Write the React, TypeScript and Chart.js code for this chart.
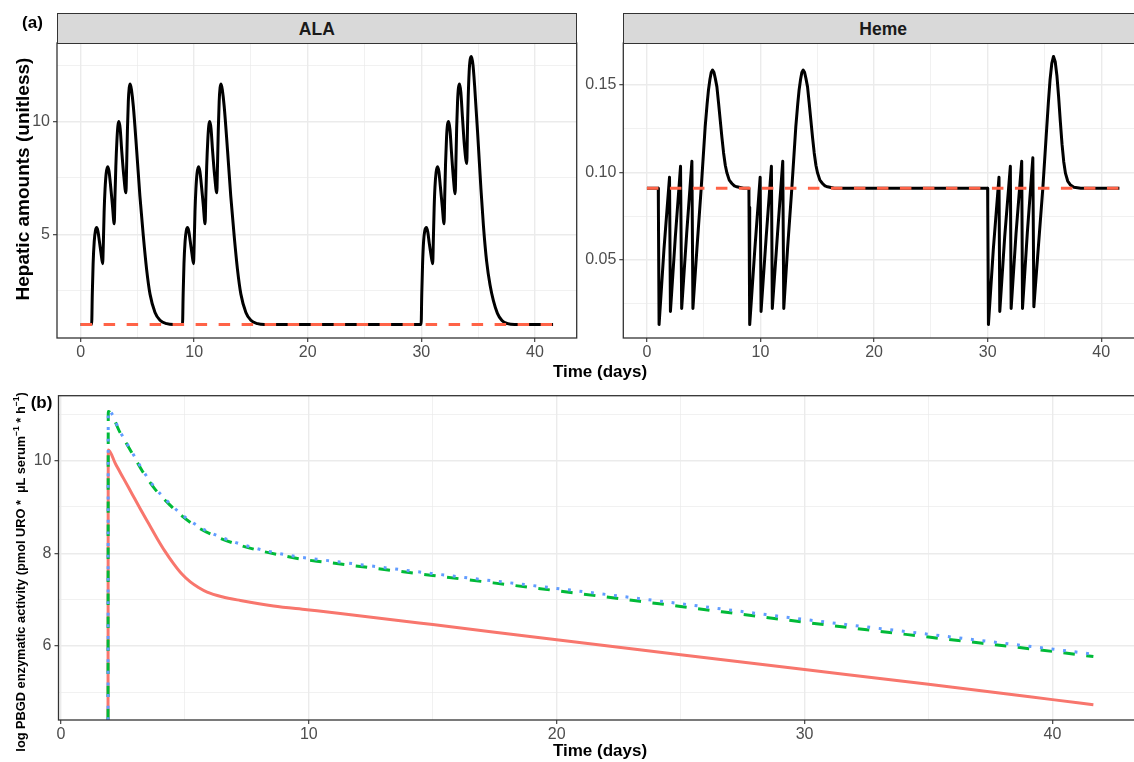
import React, { useEffect, useRef } from 'react';
import { Chart, registerables } from 'chart.js';

Chart.register(...registerables);

// ---------- Panel (a): ALA ----------
const alaDays = [
  0, 0.97, 1.03, 1.1, 1.2, 1.3, 1.41, 1.52, 1.65, 1.8, 1.94, 2.0, 2.07, 2.15, 2.25, 2.38, 2.5, 2.65, 2.8, 2.96,
  3.02, 3.1, 3.2, 3.28, 3.37, 3.48, 3.62, 3.8, 3.99, 4.05, 4.12, 4.2, 4.28, 4.37, 4.48, 4.64, 4.93, 5.22, 5.52, 5.81,
  6.11, 6.55, 6.99, 7.58, 8.16,
  8.97, 9.03, 9.1, 9.2, 9.3, 9.41, 9.52, 9.65, 9.8, 9.94, 10.0, 10.07, 10.15, 10.25, 10.38, 10.5, 10.65, 10.8, 10.96,
  11.02, 11.1, 11.2, 11.28, 11.37, 11.48, 11.62, 11.8, 11.99, 12.05, 12.12, 12.2, 12.28, 12.37, 12.48, 12.64, 12.93,
  13.22, 13.52, 13.81, 14.11, 14.55, 14.99, 15.58, 16.16,
  29.98, 30.04, 30.11, 30.2, 30.3, 30.45, 30.57, 30.7, 30.85, 31.0, 31.06, 31.13, 31.2, 31.3, 31.42, 31.54, 31.68,
  31.85, 32.0, 32.06, 32.13, 32.22, 32.3, 32.4, 32.52, 32.66, 32.82, 32.98, 33.04, 33.11, 33.19, 33.27, 33.37, 33.48,
  33.62, 33.8, 34.0, 34.06, 34.13, 34.21, 34.3, 34.42, 34.55, 34.69, 34.98, 35.25, 35.47, 35.75, 36.05, 36.35, 36.7,
  37.1, 37.6, 38.2, 41.6,
];
const alaValues = [
  1.0, 1.0, 2.4, 3.7, 4.7, 5.15, 5.3, 5.15, 4.7, 4.15, 3.7, 4.6, 6.0, 7.0, 7.7, 8.0, 7.8, 7.1, 6.3, 5.47,
  6.6, 8.0, 9.2, 9.8, 10.0, 9.7, 8.7, 7.6, 6.84, 8.0, 9.6, 10.9, 11.5, 11.67, 11.4, 10.68, 8.76, 6.7, 4.93, 3.45,
  2.35, 1.54, 1.19, 1.04, 1.0,
  1.0, 2.4, 3.7, 4.7, 5.15, 5.3, 5.15, 4.7, 4.15, 3.7, 4.6, 6.0, 7.0, 7.7, 8.0, 7.8, 7.1, 6.3, 5.47,
  6.6, 8.0, 9.2, 9.8, 10.0, 9.7, 8.7, 7.6, 6.84, 8.0, 9.6, 10.9, 11.5, 11.67, 11.4, 10.68, 8.76,
  6.7, 4.93, 3.45, 2.35, 1.54, 1.19, 1.04, 1.0,
  1.0, 2.4, 3.7, 4.7, 5.15, 5.3, 5.1, 4.6, 4.1, 3.7, 4.8, 6.2, 7.1, 7.75, 8.0, 7.8, 7.1,
  6.2, 5.47, 6.7, 8.1, 9.3, 9.85, 10.0, 9.65, 8.6, 7.5, 6.8, 8.1, 9.7, 10.9, 11.5, 11.67, 11.3,
  10.2, 8.9, 8.14, 9.6, 11.1, 12.2, 12.75, 12.89, 12.5, 11.6, 9.3, 7.0, 5.37, 3.8, 2.75, 2.05, 1.5,
  1.18, 1.04, 1.0, 1.0,
];
const alaBaselineDays = [0, 41.6];
const alaBaselineValues = [1.0, 1.0];

// ---------- Panel (a): Heme ----------
const hemeDays = [
  0, 1.0, 1.01, 1.07, 1.5, 1.99, 2.07, 2.5, 2.96, 3.06, 3.5, 3.96, 4.05, 4.4, 4.78, 5.13, 5.3, 5.42, 5.55, 5.66,
  5.78, 5.9, 6.02, 6.16, 6.3, 6.45, 6.6, 6.75, 6.9, 7.04, 7.25, 7.48, 7.7, 7.92, 8.5,
  8.98, 8.99, 9.05, 9.5, 9.97, 10.05, 10.5, 10.96, 11.04, 11.5, 11.96, 12.05, 12.38, 12.76, 13.11, 13.28, 13.4, 13.53,
  13.64, 13.76, 13.88, 14.0, 14.14, 14.28, 14.43, 14.58, 14.73, 14.88, 15.02, 15.23, 15.46, 15.68, 15.9, 16.5,
  30.0, 30.01, 30.07, 30.5, 31.0, 31.07, 31.5, 32.0, 32.07, 32.5, 33.0, 33.07, 33.5, 33.98, 34.07, 34.45, 34.86, 35.15,
  35.35, 35.5, 35.65, 35.8, 35.95, 36.1, 36.25, 36.4, 36.55, 36.7, 36.85, 37.05, 37.3, 37.6, 38.2, 41.6,
];
const hemeValues = [
  0.0909, 0.0909, 0.08, 0.0132, 0.056, 0.0972, 0.0207, 0.063, 0.1034, 0.0224, 0.065, 0.1062, 0.0224, 0.0562, 0.0909,
  0.126, 0.139, 0.1469, 0.153, 0.1568, 0.1582, 0.157, 0.1535, 0.1488, 0.14, 0.13, 0.12, 0.111, 0.104, 0.0997, 0.0955,
  0.0936, 0.0922, 0.0917, 0.0909,
  0.0909, 0.08, 0.0132, 0.056, 0.0972, 0.0207, 0.063, 0.1034, 0.0224, 0.065, 0.1062, 0.0224, 0.0562, 0.0909, 0.126,
  0.139, 0.1469, 0.153, 0.1568, 0.1582, 0.157, 0.1535, 0.1488, 0.14, 0.13, 0.12, 0.111, 0.104, 0.0997, 0.0955, 0.0936,
  0.0922, 0.0917, 0.0909,
  0.0909, 0.08, 0.0132, 0.056, 0.0972, 0.0207, 0.063, 0.1034, 0.0224, 0.065, 0.1062, 0.0224, 0.066, 0.1082, 0.0233,
  0.056, 0.0909, 0.12, 0.14, 0.153, 0.162, 0.166, 0.163, 0.155, 0.143, 0.129, 0.116, 0.106, 0.0995, 0.095, 0.0927,
  0.0915, 0.0909, 0.0909,
];
const hemeBaselineDays = [0, 41.6];
const hemeBaselineValues = [0.0909, 0.0909];

// ---------- Panel (b): log PBGD enzymatic activity ----------
const redDays = [1.9, 1.91, 2.2, 2.53, 2.87, 3.21, 3.55, 3.88, 4.2, 4.55, 4.88, 5.22, 5.55, 5.9, 6.5, 7.24, 8.58, 9.93, 11.27, 15, 20, 25, 30, 35, 40, 41.65];
const redValues = [4.4, 10.23, 9.93, 9.61, 9.28, 8.95, 8.63, 8.32, 8.04, 7.77, 7.55, 7.38, 7.26, 7.16, 7.06, 6.98, 6.86, 6.78, 6.7, 6.46, 6.13, 5.81, 5.49, 5.17, 4.84, 4.73];
const greenDays = [1.9, 1.91, 2.4, 2.87, 3.3, 3.77, 4.32, 4.89, 5.52, 6.26, 7.06, 7.91, 8.85, 9.72, 10.63, 15, 20, 25, 30, 35, 40, 41.65];
const greenValues = [4.4, 11.06, 10.59, 10.16, 9.76, 9.4, 9.08, 8.8, 8.56, 8.36, 8.2, 8.07, 7.96, 7.87, 7.81, 7.52, 7.19, 6.85, 6.51, 6.19, 5.88, 5.77];
const blueDays = [1.9, 1.91, 2.4, 2.87, 3.3, 3.77, 4.32, 4.89, 5.52, 6.26, 7.06, 7.91, 8.85, 9.72, 10.63, 15, 20, 25, 30, 35, 40, 41.65];
const blueValues = [4.4, 11.08, 10.61, 10.18, 9.79, 9.43, 9.11, 8.83, 8.59, 8.39, 8.23, 8.1, 7.99, 7.91, 7.85, 7.56, 7.24, 6.91, 6.57, 6.25, 5.93, 5.82];

// ---------- ticks ----------
const timeTicks = [0, 5, 10, 15, 20, 25, 30, 35, 40];
const timeMajor = [0, 10, 20, 30, 40];
const alaTicks = [2.5, 5, 7.5, 10, 12.5];
const alaMajor = [5, 10];
const hemeTicks = [0.025, 0.05, 0.075, 0.1, 0.125, 0.15];
const hemeMajor = [0.05, 0.1, 0.15];
const pbgdTicks = [5, 6, 7, 8, 9, 10, 11];
const pbgdMajor = [6, 8, 10];

const FONT = '"Liberation Sans", Arial, Helvetica, sans-serif';

const toPoints = (xs: number[], ys: number[]) => xs.map((x, i) => ({ x, y: ys[i] }));

function axis(min: number, max: number, tickValues: number[], major: number[], fmt: (v: number) => string, isX: boolean, size: number) {
  const isMajor = (v: number) => major.some((m) => Math.abs(m - v) < 1e-9);
  return {
    type: 'linear',
    min,
    max,
    afterBuildTicks: (scale: any) => {
      scale.ticks = tickValues.map((v) => ({ value: v }));
    },
    afterFit: (scale: any) => {
      if (isX) scale.height = size;
      else scale.width = size;
    },
    ticks: {
      autoSkip: false,
      maxRotation: 0,
      minRotation: 0,
      includeBounds: false,
      padding: 3,
      color: '#4D4D4D',
      font: { family: FONT, size: 16, lineHeight: 1 },
      callback: (v: any) => (isMajor(Number(v)) ? fmt(Number(v)) : ''),
    },
    grid: {
      color: '#EBEBEB',
      lineWidth: (c: any) => (c.tick && isMajor(c.tick.value) ? 1.4 : 0.7),
      tickColor: (c: any) => (c.tick && isMajor(c.tick.value) ? '#333333' : 'rgba(0,0,0,0)'),
      tickLength: 4,
      tickWidth: 1.1,
      drawTicks: true,
    },
    border: { display: false },
  };
}

const panelBorder = {
  id: 'panelBorder',
  afterDraw(chart: any) {
    const { ctx, chartArea: a } = chart;
    ctx.save();
    ctx.strokeStyle = '#333333';
    ctx.lineWidth = 1.3;
    ctx.strokeRect(a.left, a.top, a.right - a.left, a.bottom - a.top);
    ctx.restore();
  },
};

const fmtInt = (v: number) => String(v);
const fmt2 = (v: number) => v.toFixed(2);

function baseOptions(padding: any, x: any, y: any) {
  return {
    responsive: false,
    animation: false,
    events: [],
    layout: { padding },
    plugins: { legend: { display: false }, tooltip: { enabled: false } },
    scales: { x, y },
  };
}

function Txt(props: { x: number; y: number; size: number; bold?: boolean; rotate?: boolean; color?: string; children: any }) {
  const { x, y, size, bold, rotate, color, children } = props;
  return (
    <div
      style={{
        position: 'absolute',
        left: x,
        top: y,
        transform: `translate(-50%, -50%)${rotate ? ' rotate(-90deg)' : ''}`,
        fontSize: size,
        fontWeight: bold ? 'bold' : 'normal',
        lineHeight: 1,
        whiteSpace: 'pre',
        color: color || '#000000',
        fontFamily: FONT,
      }}
    >
      {children}
    </div>
  );
}

function Strip(props: { left: number; label: string }) {
  return (
    <div
      style={{
        position: 'absolute',
        left: props.left,
        top: 13,
        width: 519.7,
        height: 30.5,
        boxSizing: 'border-box',
        background: '#D9D9D9',
        border: '1.3px solid #333333',
        display: 'flex',
        alignItems: 'center',
        justifyContent: 'center',
        fontFamily: FONT,
        fontSize: 17.5,
        fontWeight: 'bold',
        color: '#1A1A1A',
        lineHeight: 1,
        paddingTop: 2,
      }}
    >
      {props.label}
    </div>
  );
}

export default function App() {
  const alaRef = useRef<HTMLCanvasElement>(null);
  const hemeRef = useRef<HTMLCanvasElement>(null);
  const pbgdRef = useRef<HTMLCanvasElement>(null);

  useEffect(() => {
    const charts: Chart[] = [];
    if (alaRef.current) {
      charts.push(
        new Chart(alaRef.current, {
          type: 'line',
          data: {
            datasets: [
              { data: toPoints(alaBaselineDays, alaBaselineValues), borderColor: '#FF6347', borderWidth: 3, borderDash: [11.5, 11.5], pointRadius: 0, tension: 0 },
              { data: toPoints(alaDays, alaValues), borderColor: '#000000', borderWidth: 3, pointRadius: 0, cubicInterpolationMode: 'monotone', borderJoinStyle: 'round' },
            ],
          } as any,
          options: baseOptions(
            { left: 0, top: 14, right: 3.3, bottom: 0 },
            axis(-2.08, 43.68, timeTicks, timeMajor, fmtInt, true, 27),
            axis(0.4055, 13.4845, alaTicks, alaMajor, fmtInt, false, 57)
          ) as any,
          plugins: [panelBorder],
        })
      );
    }
    if (hemeRef.current) {
      charts.push(
        new Chart(hemeRef.current, {
          type: 'line',
          data: {
            datasets: [
              { data: toPoints(hemeBaselineDays, hemeBaselineValues), borderColor: '#FF6347', borderWidth: 3, borderDash: [11.5, 11.5], pointRadius: 0, tension: 0 },
              { data: toPoints(hemeDays, hemeValues), borderColor: '#000000', borderWidth: 3, pointRadius: 0, tension: 0, borderJoinStyle: 'round' },
            ],
          } as any,
          options: baseOptions(
            { left: 0, top: 14, right: 7, bottom: 0 },
            axis(-2.08, 43.68, timeTicks, timeMajor, fmtInt, true, 27),
            axis(0.00556, 0.17364, hemeTicks, hemeMajor, fmt2, false, 43.3)
          ) as any,
          plugins: [panelBorder],
        })
      );
    }
    if (pbgdRef.current) {
      charts.push(
        new Chart(pbgdRef.current, {
          type: 'line',
          data: {
            datasets: [
              { data: toPoints(blueDays, blueValues), borderColor: '#619CFF', borderWidth: 3, borderDash: [2.9, 8.7], pointRadius: 0, cubicInterpolationMode: 'monotone' },
              { data: toPoints(greenDays, greenValues), borderColor: '#00BA38', borderWidth: 3, borderDash: [11.5, 11.5], pointRadius: 0, cubicInterpolationMode: 'monotone' },
              { data: toPoints(redDays, redValues), borderColor: '#F8766D', borderWidth: 3, pointRadius: 0, cubicInterpolationMode: 'monotone' },
            ],
          } as any,
          options: baseOptions(
            { left: 0, top: 15.7, right: 7.3, bottom: 0 },
            axis(-0.098, 43.64, timeTicks, timeMajor, fmtInt, true, 22),
            axis(4.4, 11.4, pbgdTicks, pbgdMajor, fmtInt, false, 58.5)
          ) as any,
          plugins: [panelBorder],
        })
      );
    }
    return () => charts.forEach((c) => c.destroy());
  }, []);

  return (
    <div style={{ position: 'fixed', left: 0, top: 0, width: 1134, height: 762, overflow: 'hidden', background: '#FFFFFF' }}>
      <canvas ref={alaRef} width={580} height={336} style={{ position: 'absolute', left: 0, top: 29 }} />
      <canvas ref={hemeRef} width={570} height={336} style={{ position: 'absolute', left: 580, top: 29 }} />
      <canvas ref={pbgdRef} width={1150} height={362} style={{ position: 'absolute', left: 0, top: 380 }} />
      <Strip left={57} label="ALA" />
      <Strip left={623.3} label="Heme" />
      <Txt x={32.5} y={22} size={17} bold>(a)</Txt>
      <Txt x={41.5} y={402} size={17} bold>(b)</Txt>
      <Txt x={600} y={371} size={17} bold>Time (days)</Txt>
      <Txt x={600} y={750} size={17} bold>Time (days)</Txt>
      <Txt x={22} y={179} size={19} bold rotate>Hepatic amounts (unitless)</Txt>
      <Txt x={21} y={572} size={12.8} bold rotate>
        {'log PBGD enzymatic activity (pmol URO *  µL serum'}
        <sup style={{ fontSize: 8.5, lineHeight: 0 }}>−1</sup>
        {' * h'}
        <sup style={{ fontSize: 8.5, lineHeight: 0 }}>−1</sup>
        {')'}
      </Txt>
    </div>
  );
}
